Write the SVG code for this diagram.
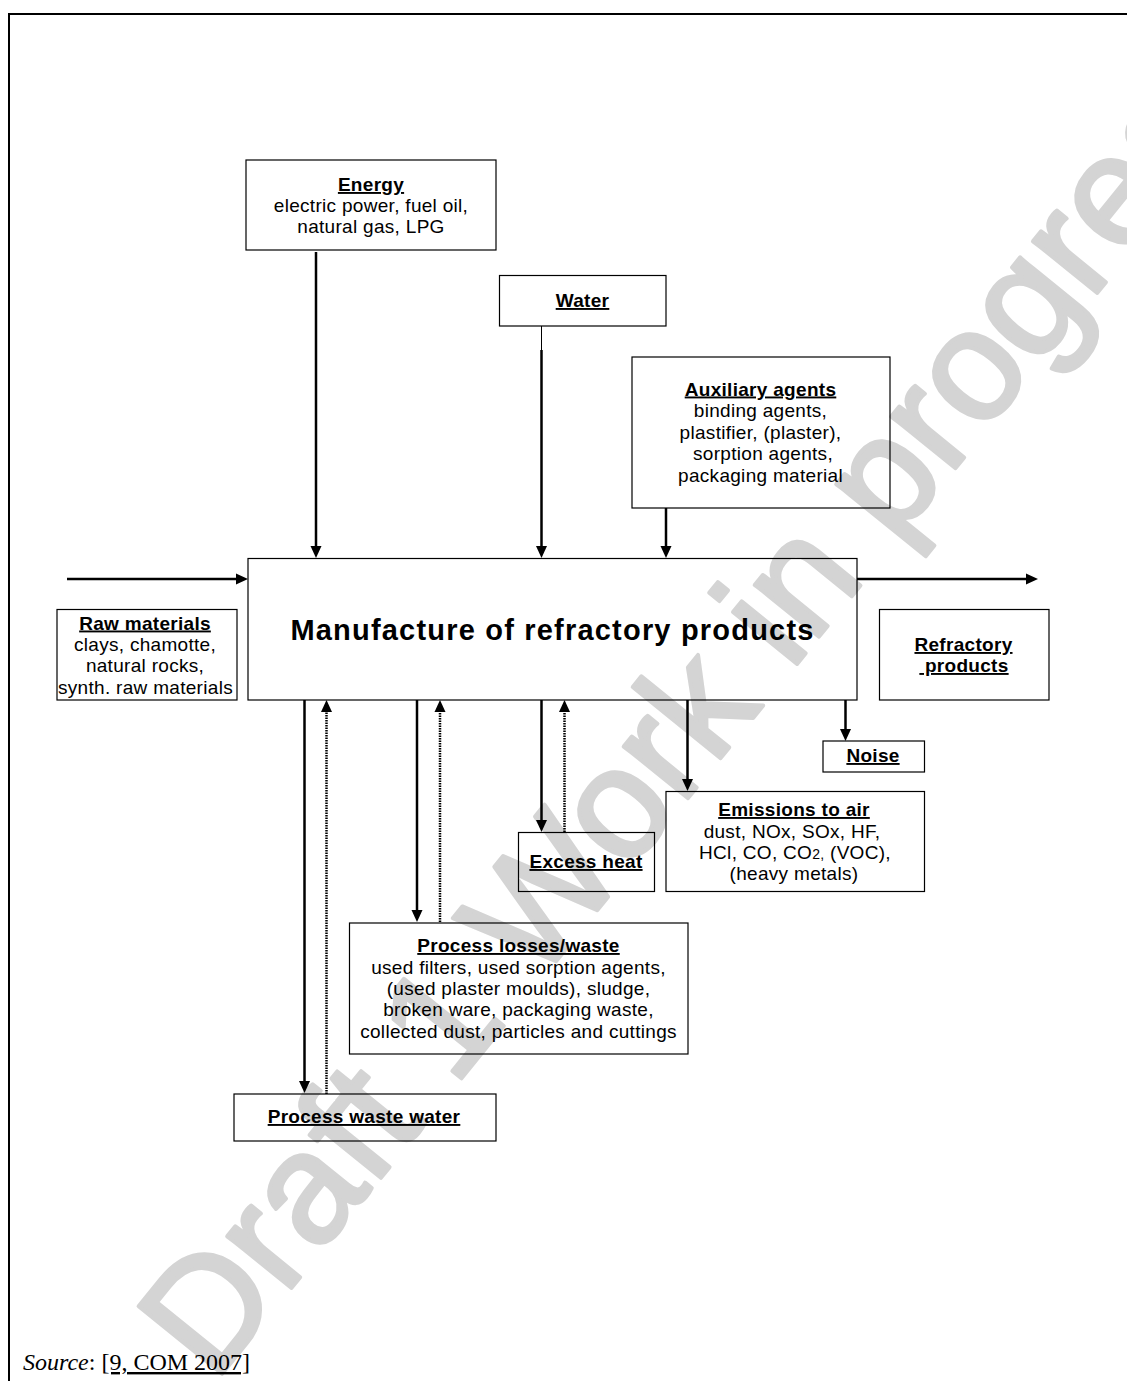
<svg xmlns="http://www.w3.org/2000/svg" width="1127" height="1381" viewBox="0 0 1127 1381">
<style>
  .box { fill: none; stroke: #000; stroke-width: 1.2; }
  .t { font-family: "Liberation Sans", Arial, sans-serif; font-size: 19px; letter-spacing: 0.3px; fill: #000; text-anchor: middle; }
  .h { font-weight: bold; text-decoration: underline; }
  .arrow { stroke: #000; stroke-width: 2.5; fill: none; marker-end: url(#ah); }
  .dot { stroke: #000; stroke-width: 2.5; fill: none; stroke-dasharray: 1.5 1; marker-end: url(#ah); }
  .wm { font-family: "Liberation Sans", Arial, sans-serif; font-size: 156px; fill: #d4d4d4; stroke: #d4d4d4; stroke-width: 4; stroke-linejoin: round; }
</style>
<defs>
  <marker id="ah" markerWidth="12" markerHeight="12" refX="6" refY="6" orient="auto" markerUnits="userSpaceOnUse">
    <path d="M0,0.5 L12,6 L0,11.5 z" fill="#000"/>
  </marker>
</defs>
<rect width="1127" height="1381" fill="#fff"/>
<g id="watermark">
  <text class="wm" x="745" y="728" text-anchor="middle" transform="rotate(-51 745 728)">Draft 1 Work in progress</text>
</g>
<g id="frame">
  <line x1="8" y1="14" x2="1127" y2="14" stroke="#000" stroke-width="2"/>
  <line x1="9" y1="13" x2="9" y2="1381" stroke="#000" stroke-width="2"/>
</g>
<g id="connectors">
  <line class="arrow" x1="316" y1="252" x2="316" y2="552"/>
  <line x1="541.5" y1="326" x2="541.5" y2="350" stroke="#000" stroke-width="1"/>
  <line class="arrow" x1="541.5" y1="350" x2="541.5" y2="552"/>
  <line class="arrow" x1="666" y1="508" x2="666" y2="552"/>
  <line class="arrow" x1="67" y1="579" x2="242" y2="579"/>
  <line class="arrow" x1="857" y1="579" x2="1032" y2="579"/>
  <line class="arrow" x1="304.5" y1="700" x2="304.5" y2="1087"/>
  <line class="dot" x1="326.5" y1="1094" x2="326.5" y2="706"/>
  <line class="arrow" x1="417" y1="700" x2="417" y2="916"/>
  <line class="dot" x1="440" y1="922" x2="440" y2="706"/>
  <line class="arrow" x1="541.5" y1="700" x2="541.5" y2="826"/>
  <line class="dot" x1="564.5" y1="832" x2="564.5" y2="706"/>
  <line class="arrow" x1="687.5" y1="700" x2="687.5" y2="785"/>
  <line class="arrow" x1="845.5" y1="700" x2="845.5" y2="735"/>
</g>
<g id="energy">
  <rect class="box" x="246" y="160" width="250" height="90"/>
  <text class="t h" x="371" y="191">Energy</text>
  <text class="t" x="371" y="212">electric power, fuel oil,</text>
  <text class="t" x="371" y="233">natural gas, LPG</text>
</g>
<g id="water">
  <rect class="box" x="499.5" y="275.5" width="166.5" height="50.5"/>
  <text class="t h" x="582.5" y="307">Water</text>
</g>
<g id="auxiliary">
  <rect class="box" x="632" y="357" width="258" height="151"/>
  <text class="t h" x="760.5" y="395.5">Auxiliary agents</text>
  <text class="t" x="760.5" y="416.5">binding agents,</text>
  <text class="t" x="760.5" y="438.5">plastifier, (plaster),</text>
  <text class="t" x="763" y="459.5">sorption agents,</text>
  <text class="t" x="760.5" y="481.5">packaging material</text>
</g>
<g id="manufacture">
  <rect class="box" x="248" y="558.5" width="609" height="141.5"/>
  <text x="552.5" y="639.5" text-anchor="middle" font-family="Liberation Sans, Arial, sans-serif" font-size="29" font-weight="bold" letter-spacing="1.2">Manufacture of refractory products</text>
</g>
<g id="raw-materials">
  <rect class="box" x="57" y="609.5" width="180" height="90.5"/>
  <text class="t h" x="145" y="629.5">Raw materials</text>
  <text class="t" x="145" y="651">clays, chamotte,</text>
  <text class="t" x="145" y="672">natural rocks,</text>
  <text class="t" x="145.5" y="693.5">synth. raw materials</text>
</g>
<g id="refractory-products">
  <rect class="box" x="879.5" y="609.5" width="169.5" height="90.5"/>
  <text class="t h" x="963.5" y="651">Refractory</text>
  <text class="t h" x="964" y="672" xml:space="preserve"> products</text>
</g>
<g id="noise">
  <rect class="box" x="823" y="741" width="101.5" height="31"/>
  <text class="t h" x="873" y="762">Noise</text>
</g>
<g id="excess-heat">
  <rect class="box" x="518.5" y="832.5" width="136" height="59"/>
  <text class="t h" x="586" y="868">Excess heat</text>
</g>
<g id="emissions">
  <rect class="box" x="666" y="791.5" width="258.5" height="100"/>
  <text class="t h" x="794" y="816">Emissions to air</text>
  <text class="t" x="792" y="837.5">dust, NOx, SOx, HF,</text>
  <text class="t" x="795" y="859">HCl, CO, CO<tspan font-size="14">2,</tspan> (VOC),</text>
  <text class="t" x="794" y="880">(heavy metals)</text>
</g>
<g id="process-losses">
  <rect class="box" x="349.5" y="923" width="338.5" height="131"/>
  <text class="t h" x="518.5" y="952">Process losses/waste</text>
  <text class="t" x="518.5" y="973.5">used filters, used sorption agents,</text>
  <text class="t" x="518.5" y="995">(used plaster moulds), sludge,</text>
  <text class="t" x="518.5" y="1016">broken ware, packaging waste,</text>
  <text class="t" x="518.5" y="1037.5">collected dust, particles and cuttings</text>
</g>
<g id="process-waste-water">
  <rect class="box" x="234" y="1094" width="262" height="47"/>
  <text class="t h" x="364" y="1123">Process waste water</text>
</g>
<g id="source">
  <text x="23" y="1370" font-family="Liberation Serif, 'Times New Roman', serif" font-size="24"><tspan font-style="italic">Source</tspan>: <tspan text-decoration="underline">[9, COM 2007]</tspan></text>
</g>
</svg>
